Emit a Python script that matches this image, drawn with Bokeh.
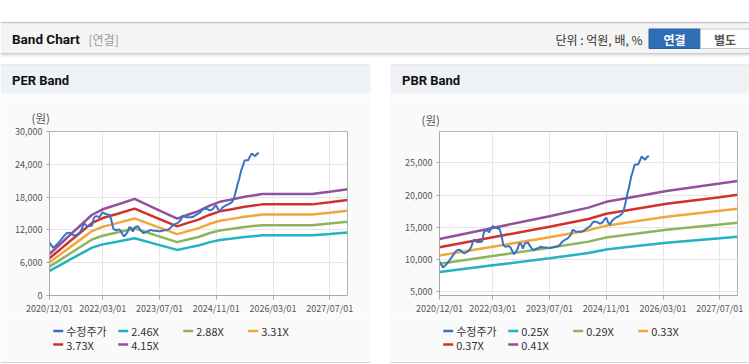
from bokeh.plotting import figure
from bokeh.models import Range1d, FixedTicker, NumeralTickFormatter, Spacer
from bokeh.layouts import column, row
from bokeh.core.properties import value
from bokeh.embed import file_html
from bokeh.resources import INLINE

FONT = "Noto Sans CJK KR"
LATIN = "Roboto"
PANEL_BG = "#fafafa"

# ---------------- data ----------------
tick_months = [0, 15, 31, 47, 63, 79]
tick_labels = ["2020/12/01", "2022/03/01", "2023/07/01", "2024/11/01", "2026/03/01", "2027/07/01"]

per_yticks = [0, 6000, 12000, 18000, 24000, 30000]
pbr_yticks = [5000, 10000, 15000, 20000, 25000]

# months since 2020/12
band_months_per = [0, 3, 6, 9, 12, 15, 19, 24, 30, 36, 39, 42, 45, 48, 51, 55, 60, 74, 79, 84]
per_246 = [4500, 5560, 6640, 7700, 8760, 9350, 9840, 10480, 9400, 8340, 8760, 9150, 9720, 10160, 10380, 10700, 11000, 11000, 11240, 11510]
per_288 = [5270, 6510, 7780, 9010, 10250, 10940, 11520, 12270, 11000, 9760, 10250, 10710, 11380, 11890, 12150, 12530, 12870, 12870, 13160, 13480]
per_331 = [6060, 7480, 8940, 10360, 11780, 12580, 13240, 14100, 12640, 11220, 11780, 12310, 13070, 13670, 13970, 14400, 14800, 14800, 15130, 15490]
per_373 = [6830, 8430, 10070, 11670, 13280, 14170, 14920, 15890, 14250, 12640, 13280, 13880, 14730, 15400, 15740, 16230, 16670, 16670, 17050, 17460]
per_415 = [7590, 9380, 11200, 12990, 14770, 15770, 16600, 17680, 15850, 14070, 14770, 15440, 16390, 17140, 17510, 18050, 18550, 18550, 18970, 19420]

band_months_pbr = [0, 15, 31, 42, 47, 53, 64, 79, 84]
pbr_025 = [8040, 9090, 10180, 11000, 11560, 11920, 12590, 13290, 13540]
pbr_029 = [9320, 10540, 11810, 12770, 13400, 13830, 14610, 15420, 15700]
pbr_033 = [10610, 11990, 13440, 14530, 15250, 15730, 16620, 17550, 17870]
pbr_037 = [11900, 13450, 15070, 16290, 17100, 17640, 18640, 19670, 20040]
pbr_041 = [13180, 14900, 16700, 18050, 18950, 19550, 20650, 21800, 22200]

price_months = [0, 0.5, 1, 1.5, 2, 2.5, 3, 3.5, 4, 4.5,
                5, 5.5, 6, 6.5, 7, 7.5, 8, 8.5, 9, 9.5,
                10, 10.5, 11, 11.5, 12, 12.5, 13, 13.5, 14, 14.5,
                15, 15.5, 16, 16.5, 17, 17.5, 18, 18.5, 19, 19.5,
                20, 20.5, 21, 21.5, 22, 22.5, 23, 23.5, 24, 24.5,
                25, 25.5, 26, 26.5, 27, 27.5, 28, 28.5, 29, 29.5,
                30, 30.5, 31, 31.5, 32, 32.5, 33, 33.5, 34, 34.5,
                35, 35.5, 36, 36.5, 37, 37.5, 38, 38.5, 39, 39.5,
                40, 40.5, 41, 41.5, 42, 42.5, 43, 43.5, 44, 44.5,
                45, 45.5, 46, 46.5, 47, 47.5, 48, 48.5, 49, 49.5,
                50, 50.5, 51, 51.5, 52, 52.5, 53, 53.5, 54, 54.5,
                55, 55.5, 56, 56.5, 57, 57.5, 58, 58.5, 59]
price_values = [9700, 9200, 8750, 9000, 9300, 9600, 10000, 10400, 10800, 11200,
                11450, 11500, 11400, 11100, 10950, 11100, 11250, 11500, 12000, 12900,
                13100, 12700, 12700, 12700, 12800, 14200, 14500, 14500, 14200, 14800,
                15200, 15000, 14900, 14800, 14700, 13600, 12200, 12000, 12000, 12100,
                11900, 11300, 10800, 11200, 11600, 12500, 12400, 11700, 12400, 12600,
                12600, 12100, 11700, 11400, 11600, 11700, 11800, 12000, 11900, 11850,
                11850, 11800, 11760, 11800, 11900, 11950, 12000, 12100, 12300, 12700,
                12900, 13100, 13200, 13500, 13800, 14600, 14500, 14300, 14300, 14300,
                14300, 14400, 14600, 14800, 15000, 15200, 15600, 15900, 15850, 15800,
                15600, 15600, 15800, 16200, 16500, 15800, 15400, 15900, 16200, 16400,
                16600, 16700, 16900, 17100, 17800, 19000, 20300, 21400, 22800, 23700,
                24700, 24750, 24750, 25400, 26000, 25700, 25500, 25900, 26100]

per_labels = ["수정주가", "2.46X", "2.88X", "3.31X", "3.73X", "4.15X"]
pbr_labels = ["수정주가", "0.25X", "0.29X", "0.33X", "0.37X", "0.41X"]
series_colors = ["#3a72c2", "#22b2c4", "#8eb45a", "#f2a73c", "#d2302c", "#91519b"]
unit_label = "(원)"

TOP_H = 100
LEG_TOP = 318
CH_H = LEG_TOP - TOP_H


def make_chart(width, bl, br, bt, frame_h, yr, yticks, bx, bands, title_standoff):
    bb = CH_H - bt - frame_h
    p = figure(width=width, height=CH_H, output_backend="svg", toolbar_location=None,
               x_range=Range1d(0, 84), y_range=Range1d(*yr),
               min_border_left=bl, min_border_right=br, min_border_top=bt, min_border_bottom=bb,
               background_fill_color="#ffffff", border_fill_color=PANEL_BG,
               outline_line_color="#b4b4b4", title=unit_label)
    p.title.align = "left"
    p.title.offset = -18
    p.title.standoff = title_standoff
    p.title.text_font = FONT
    p.title.text_font_size = "11.5px"
    p.title.text_font_style = "normal"
    p.title.text_color = "#555555"
    p.xaxis.ticker = FixedTicker(ticks=tick_months)
    p.xaxis.major_label_overrides = {m: l for m, l in zip(tick_months, tick_labels)}
    p.yaxis.ticker = FixedTicker(ticks=yticks)
    p.yaxis.formatter = NumeralTickFormatter(format="0,0")
    for ax in (p.xaxis, p.yaxis):
        ax.axis_line_color = "#a8a8a8"
        ax.major_tick_line_color = "#a8a8a8"
        ax.minor_tick_line_color = None
        ax.major_tick_in = 0
        ax.major_label_text_font = FONT
        ax.major_label_text_font_size = "9px"
        ax.major_label_text_color = "#555555"
    p.xaxis.major_tick_out = 4
    p.xaxis.major_label_standoff = 2
    p.yaxis.major_tick_out = 3
    p.yaxis.major_label_standoff = 4
    p.grid.grid_line_color = "#e6e6e6"
    for vals, col in zip(bands, series_colors[1:]):
        p.line(bx, vals, line_color=col, line_width=2.5)
    p.line(price_months, price_values, line_color=series_colors[0], line_width=2)
    return p


per = make_chart(370, 49, 23, 131 - TOP_H, 164, (0, 30000), per_yticks, band_months_per,
                 [per_246, per_288, per_331, per_373, per_415], 11)
pbr = make_chart(359, 49, 12, 128 - TOP_H, 167, (4400, 29880), pbr_yticks, band_months_pbr,
                 [pbr_025, pbr_029, pbr_033, pbr_037, pbr_041], 8)

# ---------------- header area (page coordinates) ----------------
top = figure(width=749, height=TOP_H, output_backend="svg", toolbar_location=None,
             x_range=Range1d(0, 749), y_range=Range1d(TOP_H, 0),
             x_axis_type=None, y_axis_type=None, min_border=0,
             outline_line_color=None, background_fill_color="#ffffff", border_fill_color="#ffffff")
top.grid.visible = False
top.quad(left=[0], right=[749], top=[21.5], bottom=[23], fill_color="#c2c2c2", line_color=None)
top.quad(left=[0], right=[749], top=[23], bottom=[52.5], fill_color="#f4f4f4", line_color=None)
top.quad(left=[0, 0, 0], right=[749, 749, 749], top=[52.5, 53.5, 54.5], bottom=[53.5, 54.5, 56],
         fill_color=["#cdcdcd", "#e0e0e0", "#efefef"], line_color=None)
top.quad(left=[0, 390], right=[370, 749], top=[64, 64], bottom=[65, 65], fill_color="#d6d6d6", line_color=None)
top.quad(left=[0, 390], right=[370, 749], top=[65, 65], bottom=[92.5, 92.5], fill_color="#eef1f6", line_color=None)
top.quad(left=[0, 390], right=[370, 749], top=[92.5, 92.5], bottom=[TOP_H, TOP_H], fill_color=PANEL_BG, line_color=None)
# buttons
top.quad(left=[648.5], right=[700], top=[28.5], bottom=[48], fill_color="#2f6db4", line_color="#2a62a3")
top.quad(left=[700], right=[749], top=[28.5], bottom=[48], fill_color="#ffffff", line_color="#c8c8c8")

top.text(x=[11.5], y=[38.5], text=["Band Chart"], text_font=value(LATIN), text_font_size=value("13.5px"),
         text_font_style="bold", text_color="#111111", text_baseline="middle", text_align="left")
top.text(x=[88], y=[38.5], text=["[연결]"], text_font=value(FONT), text_font_size=value("12px"),
         text_color="#9a9a9a", text_baseline="middle", text_align="left")
top.text(x=[642], y=[38.5], text=["단위 : 억원, 배, %"], text_font=value(FONT), text_font_size=value("12px"),
         text_color="#333333", text_baseline="middle", text_align="right")
top.text(x=[674], y=[38.5], text=["연결"], text_font=value(FONT), text_font_size=value("12px"),
         text_font_style="bold", text_color="#ffffff", text_baseline="middle", text_align="center")
top.text(x=[724.5], y=[38.5], text=["별도"], text_font=value(FONT), text_font_size=value("12px"),
         text_font_style="bold", text_color="#555555", text_baseline="middle", text_align="center")
top.text(x=[11.5, 401.5], y=[79.5, 79.5], text=["PER Band", "PBR Band"], text_font=value(LATIN),
         text_font_size=value("13px"), text_font_style="bold", text_color="#111111",
         text_baseline="middle", text_align="left")

# ---------------- legends (page coordinates) ----------------
leg = figure(width=749, height=364 - LEG_TOP, output_backend="svg", toolbar_location=None,
             x_range=Range1d(0, 749), y_range=Range1d(364, LEG_TOP),
             x_axis_type=None, y_axis_type=None, min_border=0,
             outline_line_color=None, background_fill_color="#ffffff", border_fill_color="#ffffff")
leg.grid.visible = False
leg.quad(left=[0, 390], right=[370, 749], top=[LEG_TOP, LEG_TOP], bottom=[361.5, 361.5],
         fill_color=PANEL_BG, line_color=None)
leg.quad(left=[0, 390], right=[370, 749], top=[361.5, 361.5], bottom=[362.5, 362.5],
         fill_color="#d6d6d6", line_color=None)
for offset, labels in ((0, per_labels), (390, pbr_labels)):
    xs, ys = [], []
    for i in range(len(labels)):
        xs.append(offset + 52.7 + (i % 4) * 65)
        ys.append(330.5 + (i // 4) * 13.5)
    leg.segment(x0=xs, y0=ys, x1=[x + 10 for x in xs], y1=ys, line_color=series_colors, line_width=2.5)
    leg.text(x=[x + 13 for x in xs], y=ys, text=labels, text_font=value(FONT), text_font_size=value("11px"),
             text_color="#333333", text_baseline="middle", text_align="left")

layout = column(top, row(per, Spacer(width=20, height=CH_H), pbr), leg)
open("out.html", "w").write(file_html(layout, INLINE))
